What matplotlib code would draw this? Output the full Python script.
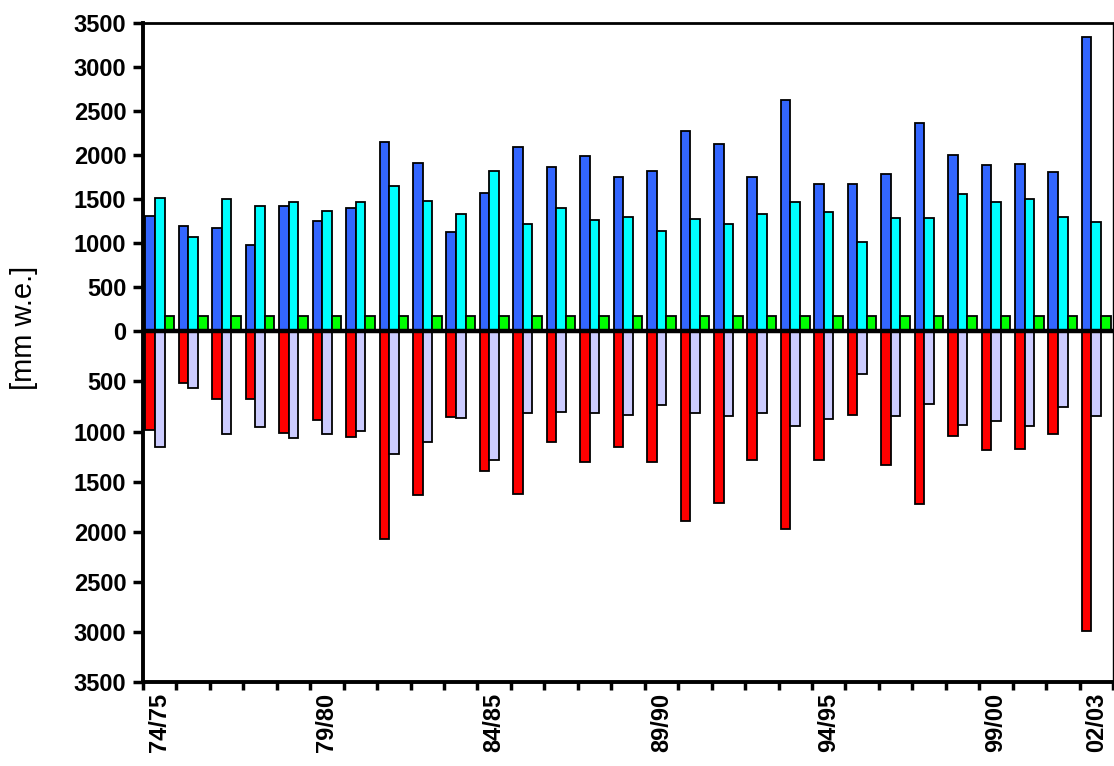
import numpy as np
import matplotlib.pyplot as plt

plt.rcParams['font.family'] = ['Liberation Sans', 'DejaVu Sans']

# hydrological years 74/75 .. 02/03
years = ['74/75', '75/76', '76/77', '77/78', '78/79', '79/80', '80/81', '81/82',
         '82/83', '83/84', '84/85', '85/86', '86/87', '87/88', '88/89', '89/90',
         '90/91', '91/92', '92/93', '93/94', '94/95', '95/96', '96/97', '97/98',
         '98/99', '99/00', '00/01', '01/02', '02/03']

# positive series [mm w.e.]
blue = [1311, 1197, 1174, 977, 1424, 1246, 1398, 2144, 1909, 1125,
        1568, 2087, 1864, 1985, 1750, 1814, 2273, 2125, 1746, 2618,
        1674, 1674, 1784, 2364, 2000, 1890, 1894, 1803, 3333]
cyan = [1508, 1068, 1496, 1424, 1462, 1364, 1470, 1648, 1477, 1333,
        1814, 1212, 1402, 1265, 1292, 1140, 1269, 1220, 1330, 1462,
        1356, 1011, 1288, 1288, 1561, 1466, 1496, 1292, 1242]
green = [170] * 29

# negative series [mm w.e.] (drawn downward)
red = [983, 513, 673, 680, 1010, 887, 1053, 2077, 1637, 853,
       1397, 1627, 1100, 1307, 1153, 1300, 1893, 1713, 1287, 1977,
       1280, 840, 1330, 1727, 1047, 1187, 1173, 1020, 2993]
lavender = [1157, 567, 1020, 960, 1060, 1027, 997, 1223, 1100, 870,
            1283, 820, 810, 813, 837, 740, 813, 850, 820, 943,
            880, 427, 843, 727, 940, 897, 947, 760, 850]

labelled = [0, 5, 10, 15, 20, 25, 28]

# the lower half of the original chart is drawn with a larger scale
k = 50.0 / 44.0


def fwd(y):
    y = np.asarray(y, dtype=float)
    return np.where(y < 0, y * k, y)


def inv(y):
    y = np.asarray(y, dtype=float)
    return np.where(y < 0, y / k, y)


fig = plt.figure(figsize=(11.14, 7.66), dpi=100)
ax = fig.add_axes([143 / 1114, 84 / 766, 970 / 1114, 659.3 / 766])
ax.set_yscale('function', functions=(fwd, inv))

x = np.arange(len(years))
w = 1 / 3.5
ec = dict(edgecolor='black', linewidth=1.3)
ax.bar(x + 0.5 * w / 2 + w / 2, blue, w, color='#3366FF', **ec)
ax.bar(x + 0.5, cyan, w, color='#00FFFF', **ec)
ax.bar(x + 1 - 0.5 * w / 2 - w / 2, green, w, color='#00FF00', **ec)
ax.bar(x + 0.5 * w / 2 + w / 2, -np.array(red), w, color='#FF0000', **ec)
ax.bar(x + 0.5, -np.array(lavender), w, color='#CCCCFF', **ec)

ax.axhline(0, color='black', lw=3.2, zorder=5)

ax.set_xlim(0, len(years))
ax.set_ylim(-3500, 3500)

yt = np.arange(-3500, 3501, 500)
ax.set_yticks(yt)
ax.set_yticklabels([str(abs(v)) for v in yt], fontsize=17, fontweight='bold')
ax.yaxis.set_minor_locator(plt.NullLocator())
ax.tick_params(axis='y', direction='out', length=7, width=2.5, pad=5)

ax.set_xticks(x[labelled] + 0.5)
ax.set_xticklabels([years[i] for i in labelled], rotation=90,
                   fontsize=17, fontweight='bold')
ax.set_xticks(np.arange(len(years) + 1), minor=True)
ax.tick_params(axis='x', which='major', length=0, pad=8)
ax.tick_params(axis='x', which='minor', direction='out', length=6, width=2.5)

ax.set_ylabel('[mm w.e.]', fontsize=21)
ax.yaxis.set_label_coords(-0.108, 0.537)

ax.spines['left'].set_linewidth(2.8)
ax.spines['bottom'].set_linewidth(2.8)
ax.spines['top'].set_linewidth(2.0)
ax.spines['right'].set_linewidth(1.0)

fig.savefig('out.png', dpi=100)
